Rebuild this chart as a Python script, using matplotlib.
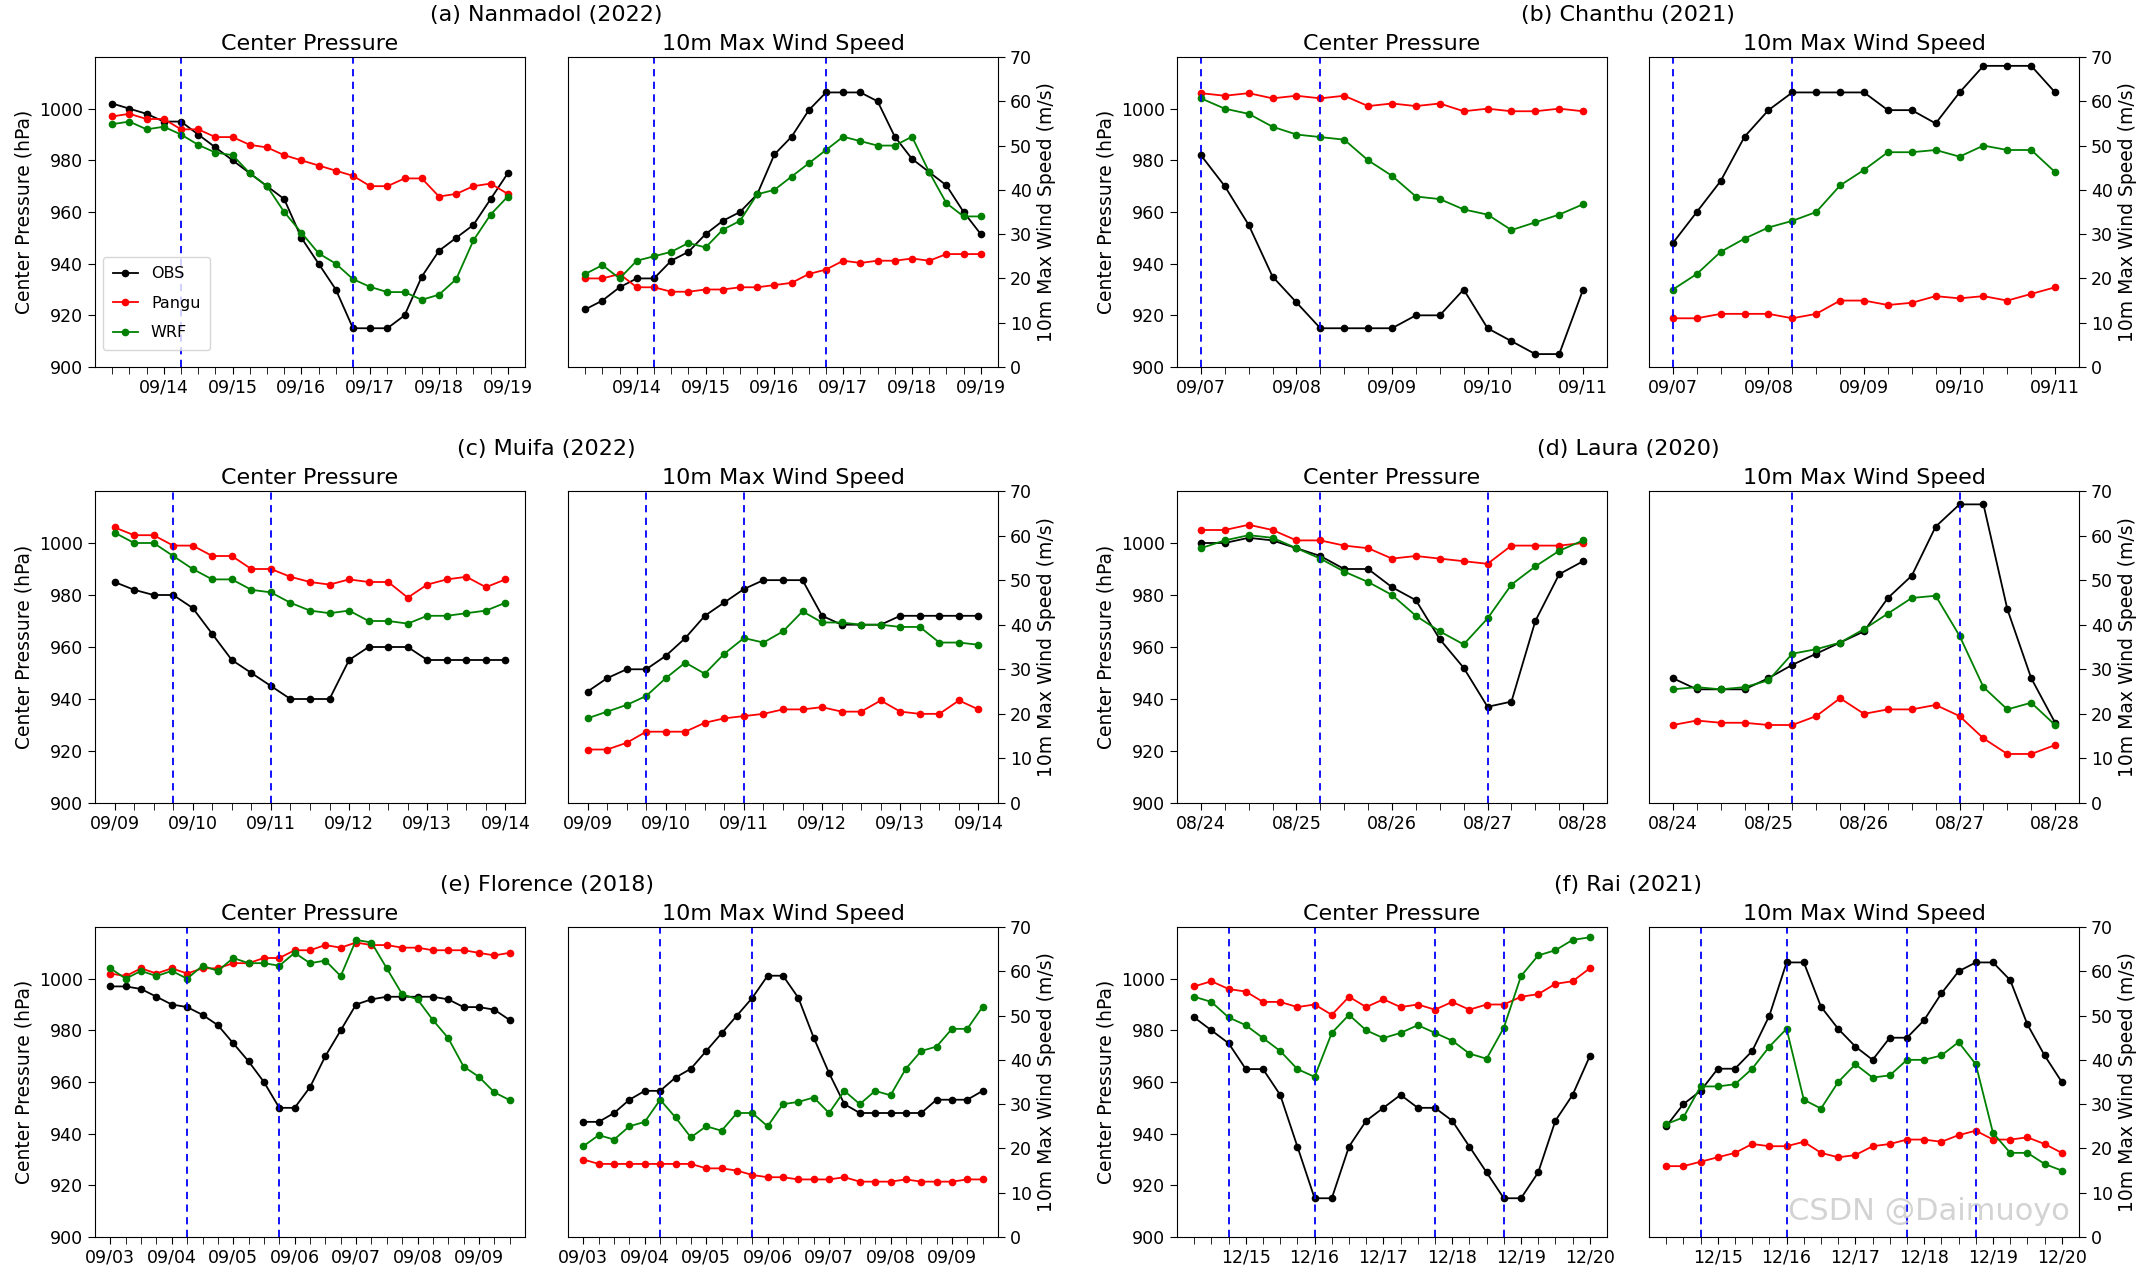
import matplotlib
matplotlib.use("Agg")
import matplotlib.pyplot as plt
import numpy as np

# ---------------- data ----------------
titles = ["(a) Nanmadol (2022)", "(b) Chanthu (2021)", "(c) Muifa (2022)",
          "(d) Laura (2020)", "(e) Florence (2018)", "(f) Rai (2021)"]

# tick labels (label, index of point)
a_ticks = ["09/14", "09/15", "09/16", "09/17", "09/18", "09/19"]; a_tick_pos = [3, 7, 11, 15, 19, 23]
b_ticks = ["09/07", "09/08", "09/09", "09/10", "09/11"]; b_tick_pos = [0, 4, 8, 12, 16]
c_ticks = ["09/09", "09/10", "09/11", "09/12", "09/13", "09/14"]; c_tick_pos = [0, 4, 8, 12, 16, 20]
d_ticks = ["08/24", "08/25", "08/26", "08/27", "08/28"]; d_tick_pos = [0, 4, 8, 12, 16]
e_ticks = ["09/03", "09/04", "09/05", "09/06", "09/07", "09/08", "09/09"]; e_tick_pos = [0, 4, 8, 12, 16, 20, 24]
f_ticks = ["12/15", "12/16", "12/17", "12/18", "12/19", "12/20"]; f_tick_pos = [3, 7, 11, 15, 19, 23]

a_vlines = [4, 14]
b_vlines = [0, 5]
c_vlines = [3, 8]
d_vlines = [5, 12]
e_vlines = [5, 11]
f_vlines = [2, 7, 14, 18]

# pressure (hPa)
a_obs_p = [1002,1000,998,995,995,990,985,980,975,970,965,950,940,930,915,915,915,920,935,945,950,955,965,975]
a_pangu_p = [997,998,996,996,992,992,989,989,986,985,982,980,978,976,974,970,970,973,973,966,967,970,971,967]
a_wrf_p = [994,995,992,993,990,986,983,982,975,970,960,952,944,940,934,931,929,929,926,928,934,949,959,966]
b_obs_p = [982,970,955,935,925,915,915,915,915,920,920,930,915,910,905,905,930]
b_pangu_p = [1006,1005,1006,1004,1005,1004,1005,1001,1002,1001,1002,999,1000,999,999,1000,999]
b_wrf_p = [1004,1000,998,993,990,989,988,980,974,966,965,961,959,953,956,959,963]
c_obs_p = [985,982,980,980,975,965,955,950,945,940,940,940,955,960,960,960,955,955,955,955,955]
c_pangu_p = [1006,1003,1003,999,999,995,995,990,990,987,985,984,986,985,985,979,984,986,987,983,986]
c_wrf_p = [1004,1000,1000,995,990,986,986,982,981,977,974,973,974,970,970,969,972,972,973,974,977]
d_obs_p = [1000,1000,1002,1001,998,995,990,990,983,978,963,952,937,939,970,988,993]
d_pangu_p = [1005,1005,1007,1005,1001,1001,999,998,994,995,994,993,992,999,999,999,1000]
d_wrf_p = [998,1001,1003,1002,998,994,989,985,980,972,966,961,971,984,991,997,1001]
e_obs_p = [997,997,996,993,990,989,986,982,975,968,960,950,950,958,970,980,990,992,993,993,993,993,992,989,989,988,984]
e_pangu_p = [1002,1001,1004,1002,1004,1002,1004,1004,1006,1006,1008,1008,1011,1011,1013,1012,1014,1013,1013,1012,1012,1011,1011,1011,1010,1009,1010]
e_wrf_p = [1004,1000,1003,1001,1003,1000,1005,1003,1008,1006,1006,1005,1010,1006,1007,1001,1015,1014,1004,994,992,984,977,966,962,956,953]
f_obs_p = [985,980,975,965,965,955,935,915,915,935,945,950,955,950,950,945,935,925,915,915,925,945,955,970]
f_pangu_p = [997,999,996,995,991,991,989,990,986,993,989,992,989,990,988,991,988,990,990,993,994,998,999,1004]
f_wrf_p = [993,991,985,982,977,972,965,962,979,986,980,977,979,982,979,976,971,969,981,1001,1009,1011,1015,1016]

# 10 m max wind (m/s)
a_obs_w = [13,15,18,20,20,24,26,30,33,35,39,48,52,58,62,62,62,60,52,47,44,41,35,30]
a_pangu_w = [20,20,21,18,18,17,17,17.5,17.5,18,18,18.5,19,21,22,24,23.5,24,24,24.5,24,25.5,25.5,25.5]
a_wrf_w = [21,23,20,24,25,26,28,27,31,33,39,40,43,46,49,52,51,50,50,52,44,37,34,34]
b_obs_w = [28,35,42,52,58,62,62,62,62,58,58,55,62,68,68,68,62]
b_pangu_w = [11,11,12,12,12,11,12,15,15,14,14.5,16,15.5,16,15,16.5,18]
b_wrf_w = [17.5,21,26,29,31.5,33,35,41,44.5,48.5,48.5,49,47.5,50,49,49,44]
c_obs_w = [25,28,30,30,33,37,42,45,48,50,50,50,42,40,40,40,42,42,42,42,42]
c_pangu_w = [12,12,13.5,16,16,16,18,19,19.5,20,21,21,21.5,20.5,20.5,23,20.5,20,20,23,21]
c_wrf_w = [19,20.5,22,24,28,31.5,29,33.5,37,36,38.5,43,40.5,40.5,40,40,39.5,39.5,36,36,35.5]
d_obs_w = [28,25.5,25.5,25.5,28,31,33.5,36,38.5,46,51,62,67,67,43.5,28,18]
d_pangu_w = [17.5,18.5,18,18,17.5,17.5,19.5,23.5,20,21,21,22,19.5,14.5,11,11,13]
d_wrf_w = [25.5,26,25.5,26,27.5,33.5,34.5,36,39,42.5,46,46.5,37.5,26,21,22.5,17.5]
e_obs_w = [26,26,28,31,33,33,36,38,42,46,50,54,59,59,54,45,37,30,28,28,28,28,28,31,31,31,33]
e_pangu_w = [17.5,16.5,16.5,16.5,16.5,16.5,16.5,16.5,15.5,15.5,15,14,13.5,13.5,13,13,13,13.5,12.5,12.5,12.5,13,12.5,12.5,12.5,13,13]
e_wrf_w = [20.5,23,22,25,26,31,27,22.5,25,24,28,28,25,30,30.5,31.5,28,33,30,33,32,38,42,43,47,47,52]
f_obs_w = [25,30,33,38,38,42,50,62,62,52,47,43,40,45,45,49,55,60,62,62,58,48,41,35]
f_pangu_w = [16,16,17,18,19,21,20.5,20.5,21.5,19,18,18.5,20.5,21,22,22,21.5,23,24,22,22,22.5,21,19]
f_wrf_w = [25.5,27,34,34,34.5,38,43,47,31,29,35,39,36,36.5,40,40,41,44,39,23.5,19,19,16.5,15]

storms = [
    (a_ticks, a_tick_pos, a_vlines, a_obs_p, a_pangu_p, a_wrf_p, a_obs_w, a_pangu_w, a_wrf_w),
    (b_ticks, b_tick_pos, b_vlines, b_obs_p, b_pangu_p, b_wrf_p, b_obs_w, b_pangu_w, b_wrf_w),
    (c_ticks, c_tick_pos, c_vlines, c_obs_p, c_pangu_p, c_wrf_p, c_obs_w, c_pangu_w, c_wrf_w),
    (d_ticks, d_tick_pos, d_vlines, d_obs_p, d_pangu_p, d_wrf_p, d_obs_w, d_pangu_w, d_wrf_w),
    (e_ticks, e_tick_pos, e_vlines, e_obs_p, e_pangu_p, e_wrf_p, e_obs_w, e_pangu_w, e_wrf_w),
    (f_ticks, f_tick_pos, f_vlines, f_obs_p, f_pangu_p, f_wrf_p, f_obs_w, f_pangu_w, f_wrf_w),
]

# ---------------- plot ----------------
fig = plt.figure(figsize=(21.5, 12.72), dpi=100)
W, H = 2150, 1272
col_left = [(95, 568), (1177, 1649)]
ax_w = 430
rows = [(57, 367), (491, 803), (927, 1237)]
lkw = dict(marker="o", markersize=4.5, linewidth=1.3)
FS = 12.5

def style_x(ax, n, ticks, pos, vlines):
    ax.set_xlim(-1, n)
    ax.set_xticks(range(n), minor=True)
    ax.set_xticks(pos)
    ax.set_xticklabels(ticks, fontsize=FS)
    ax.tick_params(axis="x", which="both", length=5)
    for v in vlines:
        ax.axvline(v, color="blue", linestyle="--", linewidth=1.3, dashes=(4, 3))

for i, s in enumerate(storms):
    ticks, pos, vl, op, pp, wp, ow, pw, ww = s
    r, c = divmod(i, 2)
    top, bot = rows[r]
    lp, lw_ = col_left[c]
    y0 = 1 - bot / H
    h = (bot - top) / H
    axp = fig.add_axes([lp / W, y0, ax_w / W, h])
    axw = fig.add_axes([lw_ / W, y0, ax_w / W, h])
    n = len(op)
    x = np.arange(n)
    axp.plot(x, op, color="black", label="OBS", **lkw)
    axp.plot(x, pp, color="red", label="Pangu", **lkw)
    axp.plot(x, wp, color="green", label="WRF", **lkw)
    axp.set_ylim(900, 1020)
    axp.set_yticks([900, 920, 940, 960, 980, 1000])
    axp.tick_params(axis="y", labelsize=FS, length=5)
    axp.set_ylabel("Center Pressure (hPa)", fontsize=13.5)
    axp.set_title("Center Pressure", fontsize=16, pad=5)
    style_x(axp, n, ticks, pos, vl)

    axw.plot(x, ow, color="black", **lkw)
    axw.plot(x, pw, color="red", **lkw)
    axw.plot(x, ww, color="green", **lkw)
    axw.set_ylim(0, 70)
    axw.yaxis.tick_right()
    axw.yaxis.set_label_position("right")
    axw.set_yticks(range(0, 71, 10))
    axw.tick_params(axis="y", labelsize=FS, length=5)
    axw.set_ylabel("10m Max Wind Speed (m/s)", fontsize=13.5)
    axw.set_title("10m Max Wind Speed", fontsize=16, pad=5)
    style_x(axw, n, ticks, pos, vl)

    if i == 0:
        axp.legend(loc="lower left", fontsize=11.5, handlelength=1.6, borderpad=0.6,
                   labelspacing=0.9, bbox_to_anchor=(0.0, 0.03))
    xc = (lp + lw_ + ax_w) / 2 / W
    fig.text(xc, 1 - (top - 42) / H, titles[i], ha="center", va="center", fontsize=16)

fig.text(2070 / W, 1 - 1212 / H, "CSDN @Daimuoyo", ha="right", va="center", fontsize=22,
         color="#c8c8c8", alpha=0.8)

fig.savefig("out.png", dpi=100)
